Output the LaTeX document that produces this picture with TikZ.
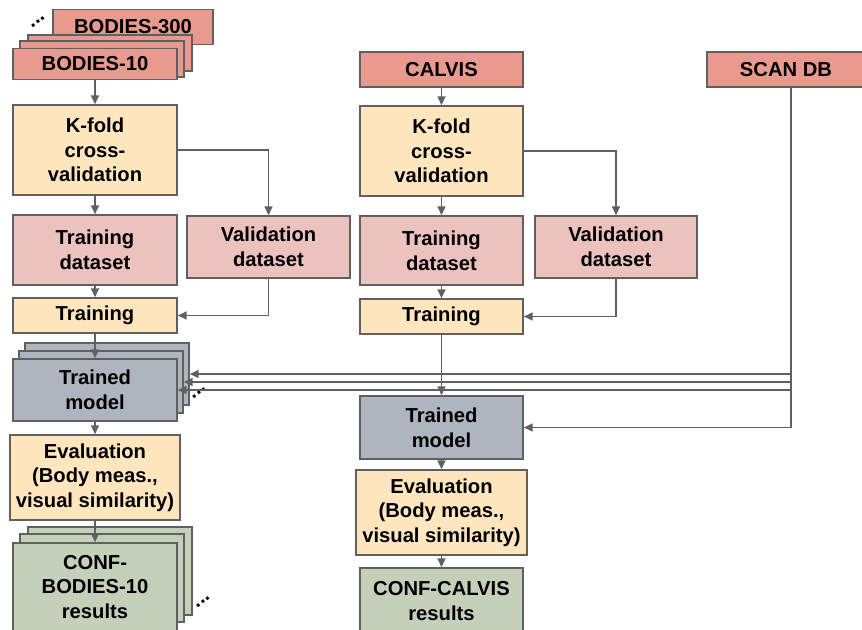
\documentclass[tikz,border=0pt]{standalone}
\usepackage{fontspec}
\setmainfont{Liberation Sans}
\usetikzlibrary{arrows.meta,positioning}

\definecolor{hdrred}{RGB}{233,154,143}
\definecolor{foldyel}{RGB}{255,230,191}
\definecolor{dspink}{RGB}{236,194,190}
\definecolor{mdlgray}{RGB}{174,181,191}
\definecolor{resgreen}{RGB}{196,208,185}
\definecolor{linegray}{RGB}{96,96,96}

\begin{document}
\begin{tikzpicture}[x=0.02cm,y=-0.02cm,>={Triangle[length=5pt,width=4.5pt]},
    font=\fontsize{11.5}{14}\selectfont\bfseries,
    blk/.style={draw=linegray,line width=0.9pt,align=center,inner sep=1pt},
    wh/.style 2 args={minimum width=#1*0.02cm,minimum height=#2*0.02cm},
    hdr/.style={blk,fill=hdrred},
    fold/.style={blk,fill=foldyel},
    dset/.style={blk,fill=dspink},
    mdl/.style={blk,fill=mdlgray},
    res/.style={blk,fill=resgreen},
    arr/.style={->,draw=linegray,line width=0.9pt}]
    \useasboundingbox (0,0) rectangle (862,629);

    % left column: BODIES
    \node[hdr,wh={160}{35}] (B300) at (133,27) {BODIES-300};
    \node[rotate=35] (dotsA) at (38,22) {...};
    \node[hdr,wh={164}{36}] (B10_s2) at (110,53) {};
    \node[hdr,wh={164}{36}] (B10_s1) at (102,59) {};
    \node[hdr,wh={164}{31}] (B10) at (95,64) {BODIES-10};
    \node[fold,wh={164}{90}] (KL) at (95,150) {K-fold\\cross-\\validation};
    \node[dset,wh={164}{70}] (TDL) at (95,250) {Training\\dataset};
    \node[dset,wh={163}{62}] (VL) at (268.5,247) {Validation\\dataset};
    \node[fold,wh={164}{35}] (TrL) at (95,315.5) {Training};
    \node[mdl,wh={164}{62}] (TML_s2) at (107,374) {};
    \node[mdl,wh={164}{62}] (TML_s1) at (101,382) {};
    \node[mdl,wh={164}{62}] (TML) at (95,390) {Trained\\model};
    \node[rotate=35] (dotsB) at (199,393) {...};
    \node[fold,wh={170}{85}] (EL) at (95,477.5) {Evaluation\\(Body meas.,\\visual similarity)};
    \node[res,wh={164}{88}] (CL_s2) at (110,571) {};
    \node[res,wh={164}{88}] (CL_s1) at (102,578) {};
    \node[res,wh={164}{88}] (CL) at (95,587) {CONF-\\BODIES-10\\results};
    \node[rotate=35] (dotsC) at (203,602) {...};

    % middle column: CALVIS
    \node[hdr,wh={163}{35}] (CAL) at (441.5,69.5) {CALVIS};
    \node[fold,wh={163}{90}] (KM) at (441.5,151) {K-fold\\cross-\\validation};
    \node[dset,wh={163}{69}] (TDM) at (441.5,250.5) {Training\\dataset};
    \node[dset,wh={162}{62}] (VM) at (616,247) {Validation\\dataset};
    \node[fold,wh={163}{35}] (TrM) at (441.5,316.5) {Training};
    \node[mdl,wh={163}{63}] (TMM) at (441.5,427.5) {Trained\\model};
    \node[fold,wh={171}{85}] (EM) at (441.5,512.5) {Evaluation\\(Body meas.,\\visual similarity)};
    \node[res,wh={163}{66}] (CM) at (441.5,601) {CONF-CALVIS\\results};

    % right: SCAN DB
    \node[hdr,wh={158}{35}] (SC) at (786,69.5) {SCAN DB};

    \draw[arr] (B10) -- (KL);
    \draw[arr] (KL) -- (TDL);
    \draw[arr] (KL.east) -| (VL.north);
    \draw[arr] (TDL) -- (TrL);
    \draw[arr] (VL.south) |- (TrL.east);
    \draw[arr] (TrL) -- (TML);
    \draw[arr] (TML) -- (EL);
    \draw[arr] (EL) -- (CL);

    \draw[arr] (CAL) -- (KM);
    \draw[arr] (KM) -- (TDM);
    \draw[arr] (KM.east) -| (VM.north);
    \draw[arr] (TDM) -- (TrM);
    \draw[arr] (VM.south) |- (TrM.east);
    \draw[arr] (TrM) -- (TMM);
    \draw[arr] (TMM) -- (EM);
    \draw[arr] (EM) -- (CM);

    \draw[arr] ([xshift=3pt]SC.south) |- (TMM.east);
    \draw[arr] ([xshift=3pt]SC.south |- TML_s2.east) -- (TML_s2.east);
    \draw[arr] ([xshift=3pt]SC.south |- TML_s1.east) -- (TML_s1.east);
    \draw[arr] ([xshift=3pt]SC.south |- TML.east) -- (TML.east);
\end{tikzpicture}
\end{document}
